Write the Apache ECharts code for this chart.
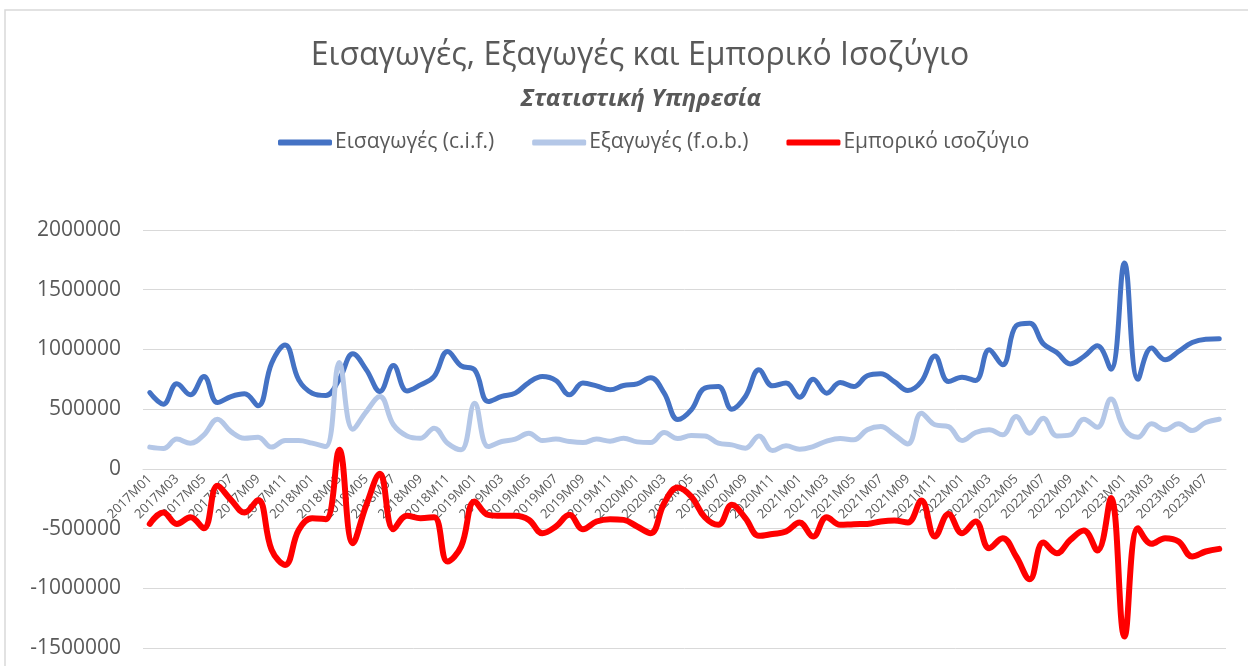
<!DOCTYPE html>
<html>
<head>
<meta charset="utf-8">
<script src="https://cdn.jsdelivr.net/npm/echarts@6/dist/echarts.min.js"></script>
<style>
  html, body { margin: 0; padding: 0; background: #fff; }
  #chart { width: 1248px; height: 666px; }
</style>
</head>
<body>
<div id="chart"></div>
<script>
// monthly categories 2017M01 .. 2023M08
var months = [];
for (var y = 2017; y <= 2023; y++) {
    for (var m = 1; m <= 12; m++) {
        if (y == 2023 && m > 8) break;
        months.push(y + 'M' + (m < 10 ? '0' + m : m));
    }
}

// Εισαγωγές (c.i.f.)
var imports = [
    639000, 542000, 712000, 620000, 773000, 555000, 605000, 628000, 528000, 885000,
    1038000, 745000, 634000, 615000, 750000, 963000, 829000, 648000, 865000, 652000,
    703000, 773000, 983000, 862000, 829000, 564000, 606000, 634000, 723000, 773000,
    740000, 620000, 718000, 695000, 662000, 698000, 712000, 762000, 634000, 413000,
    494000, 676000, 689000, 500000, 606000, 829000, 695000, 718000, 600000, 751000,
    634000, 723000, 689000, 779000, 796000, 731000, 656000, 731000, 946000, 731000,
    768000, 740000, 997000, 871000, 1198000, 1220000, 1047000, 974000, 879000, 941000,
    1030000, 835000, 1723000, 751000, 1011000, 913000, 983000, 1058000, 1086000, 1089000
];

// Εξαγωγές (f.o.b.)
var exports = [
    182000, 170000, 249000, 215000, 285000, 416000, 312000, 257000, 265000, 182000,
    237000, 237000, 215000, 187000, 890000, 332000, 480000, 606000, 369000, 276000,
    257000, 341000, 215000, 159000, 550000, 187000, 229000, 249000, 299000, 237000,
    249000, 229000, 220000, 249000, 232000, 257000, 226000, 220000, 304000, 254000,
    279000, 276000, 215000, 201000, 173000, 276000, 153000, 193000, 165000, 187000,
    232000, 254000, 243000, 327000, 354000, 285000, 209000, 466000, 369000, 354000,
    237000, 304000, 327000, 285000, 438000, 299000, 424000, 276000, 285000, 416000,
    349000, 584000, 332000, 265000, 377000, 327000, 377000, 321000, 388000, 416000
];

// Εμπορικό ισοζύγιο
var balance = [
    -461000, -366000, -461000, -405000, -497000, -142000, -260000, -366000, -260000, -678000,
    -804000, -511000, -413000, -421000, 159000, -622000, -301000, -42000, -505000, -392000,
    -413000, -405000, -776000, -650000, -274000, -385000, -393000, -393000, -427000, -539000,
    -483000, -385000, -505000, -441000, -421000, -427000, -483000, -539000, -287000, -156000,
    -232000, -405000, -469000, -301000, -413000, -561000, -545000, -525000, -449000, -567000,
    -405000, -469000, -463000, -461000, -441000, -433000, -449000, -265000, -567000, -378000,
    -539000, -441000, -664000, -580000, -734000, -924000, -617000, -706000, -595000, -517000,
    -684000, -245000, -1404000, -497000, -628000, -580000, -608000, -734000, -692000, -670000
];

var yTicks = { min: -1500000, max: 2000000, step: 500000 };

var txt = '#595959';
var font = 'Open Sans';
var gridBottom = 18;

var chart = echarts.init(document.getElementById('chart'));

var option = {
    backgroundColor: '#fff',
    animation: false,
    title: [{
        text: 'Εισαγωγές, Εξαγωγές και Εμπορικό Ισοζύγιο',
        left: 635,
        textAlign: 'center',
        top: 35,
        textStyle: { fontFamily: font, fontSize: 32, fontWeight: 'normal', color: txt }
    }, {
        text: 'Στατιστική Υπηρεσία',
        left: 636,
        textAlign: 'center',
        top: 82,
        textStyle: { fontFamily: font, fontSize: 24, fontWeight: 'bold', fontStyle: 'italic', color: txt }
    }],
    legend: {
        top: 127,
        left: 273,
        icon: 'roundRect',
        itemWidth: 54,
        itemHeight: 6,
        itemGap: 38,
        textStyle: { fontFamily: font, fontSize: 21, color: txt, padding: [0, 0, 0, -2] },
        data: ['Εισαγωγές (c.i.f.)', 'Εξαγωγές (f.o.b.)', 'Εμπορικό ισοζύγιο']
    },
    grid: { left: 143, right: 22, top: 230, bottom: gridBottom, containLabel: false, outerBoundsMode: 'none' },
    xAxis: {
        type: 'category',
        data: months,
        boundaryGap: true,
        offset: 0,
        axisLine: { onZero: false, lineStyle: { color: '#d9d9d9', width: 1 } },
        axisTick: { show: false },
        axisLabel: {
            interval: 1,
            rotate: 45,
            margin: 8,
            fontFamily: font,
            fontSize: 13,
            color: txt
        },
        splitLine: { show: false }
    },
    yAxis: {
        type: 'value',
        min: yTicks.min,
        max: yTicks.max,
        interval: yTicks.step,
        axisLine: { show: false },
        axisTick: { show: false },
        axisLabel: {
            fontFamily: font,
            fontSize: 21,
            color: txt,
            margin: 22,
            formatter: function (v) { return String(v); }
        },
        splitLine: { lineStyle: { color: '#d9d9d9', width: 1 } }
    },
    series: [{
        name: 'Εισαγωγές (c.i.f.)',
        type: 'line',
        data: imports,
        smooth: 0.4,
        showSymbol: false,
        lineStyle: { color: '#4472C4', width: 5, cap: 'round', join: 'round' },
        itemStyle: { color: '#4472C4' }
    }, {
        name: 'Εξαγωγές (f.o.b.)',
        type: 'line',
        data: exports,
        smooth: 0.4,
        showSymbol: false,
        lineStyle: { color: '#B4C7E7', width: 5, cap: 'round', join: 'round' },
        itemStyle: { color: '#B4C7E7' }
    }, {
        name: 'Εμπορικό ισοζύγιο',
        type: 'line',
        data: balance,
        smooth: 0.4,
        showSymbol: false,
        lineStyle: { color: '#FF0000', width: 6, cap: 'round', join: 'round' },
        itemStyle: { color: '#FF0000' }
    }],
    graphic: [{
        type: 'polyline',
        silent: true,
        shape: { points: [[5, 666], [5, 10], [1248, 10]] },
        style: { stroke: '#d9d9d9', lineWidth: 1.5, fill: null }
    }]
};

chart.setOption(option);

// move the category axis (line + labels) up to the zero line, like Excel does
var zeroY = chart.convertToPixel({ yAxisIndex: 0 }, 0);
chart.setOption({ xAxis: { offset: zeroY - (666 - gridBottom) } });
</script>
</body>
</html>
